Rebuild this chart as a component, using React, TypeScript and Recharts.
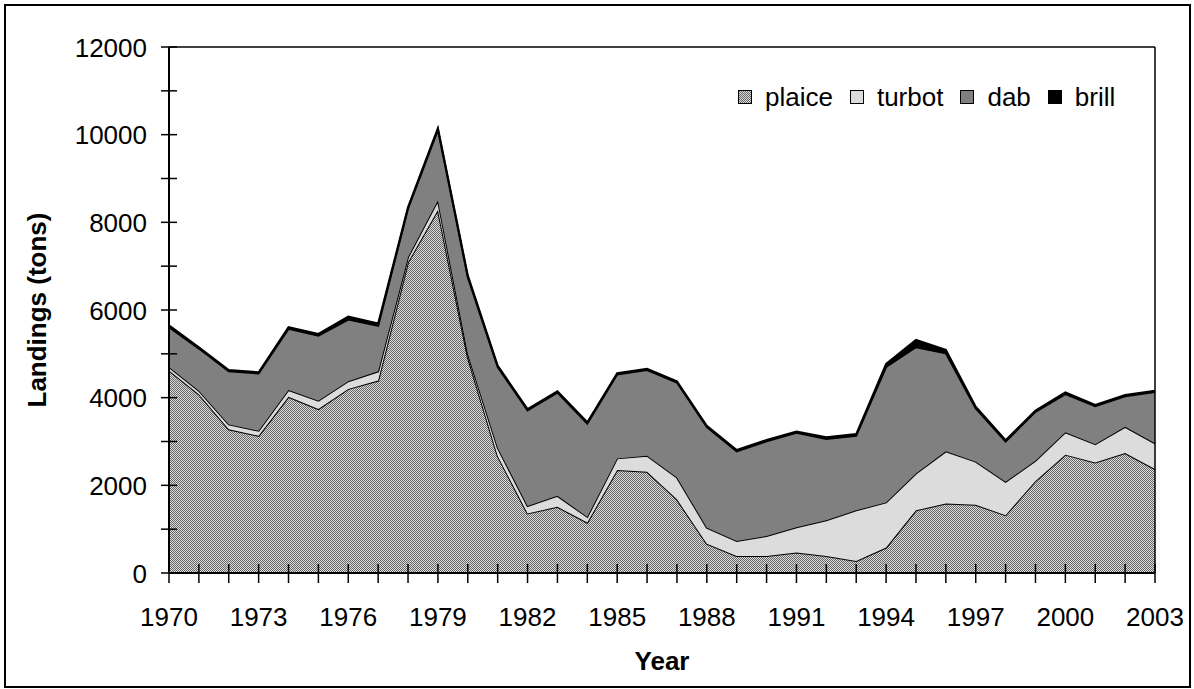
import { Area, AreaChart, XAxis, YAxis, ReferenceLine } from 'recharts';

const years = [
  1970, 1971, 1972, 1973, 1974, 1975, 1976, 1977, 1978, 1979, 1980, 1981,
  1982, 1983, 1984, 1985, 1986, 1987, 1988, 1989, 1990, 1991, 1992, 1993,
  1994, 1995, 1996, 1997, 1998, 1999, 2000, 2001, 2002, 2003,
];
const plaice = [
  4620, 4080, 3280, 3130, 4020, 3740, 4200, 4390, 7090, 8280, 4920, 2670,
  1360, 1510, 1150, 2350, 2310, 1680, 670, 390, 390, 465, 390, 275,
  580, 1430, 1585, 1555, 1320, 2100, 2700, 2520, 2735, 2370,
];
const turbot = [
  80, 80, 110, 115, 155, 190, 175, 210, 115, 220, 80, 190,
  170, 250, 130, 265, 365, 500, 365, 340, 455, 580, 815, 1155,
  1030, 840, 1190, 985, 760, 460, 510, 420, 600, 590,
];
const dab = [
  910, 960, 1210, 1305, 1395, 1485, 1405, 1040, 1105, 1610, 1750, 1840,
  2180, 2355, 2130, 1915, 1955, 2165, 2295, 2045, 2160, 2155, 1850, 1700,
  3090, 2880, 2235, 1215, 920, 1115, 870, 865, 695, 1170,
];
const brill = [
  40, 30, 30, 30, 40, 40, 70, 50, 40, 40, 40, 30,
  30, 30, 30, 30, 30, 30, 30, 30, 30, 30, 40, 40,
  70, 170, 80, 40, 30, 30, 40, 30, 30, 30,
];
const yTicks = [0, 1000, 2000, 3000, 4000, 5000, 6000, 7000, 8000, 9000, 10000, 11000, 12000];
const xLabelYears = [1970, 1973, 1976, 1979, 1982, 1985, 1988, 1991, 1994, 1997, 2000, 2003];
const yLabelValues = [0, 2000, 4000, 6000, 8000, 10000, 12000];

const data = years.map((year, i) => ({
  year,
  plaice: plaice[i],
  turbot: turbot[i],
  dab: dab[i],
  brill: brill[i],
}));

const FONT = 'Liberation Sans, Arial, sans-serif';

const legendItems = [
  { name: 'plaice', fill: 'url(#lg-checker)' },
  { name: 'turbot', fill: '#dcdcdc' },
  { name: 'dab', fill: '#808080' },
  { name: 'brill', fill: '#000000' },
];

// fine checker pattern used for the plaice fill
function Checker({ id }: { id: string }) {
  return (
    <pattern id={id} width={2} height={2} patternUnits="userSpaceOnUse">
      <rect width={2} height={2} fill="#dcdcdc" />
      <rect width={1} height={1} fill="#666" />
      <rect x={1} y={1} width={1} height={1} fill="#666" />
    </pattern>
  );
}

function XTick(props: any) {
  const { x, y, payload } = props;
  const showLabel = xLabelYears.includes(payload.value);
  return (
    <g>
      <line x1={x} x2={x} y1={y - 9} y2={y + 10} stroke="#000" strokeWidth={1.5} />
      {showLabel && (
        <text x={x} y={y + 53} textAnchor="middle" fontSize={26} fontFamily={FONT} fill="#000">
          {payload.value}
        </text>
      )}
    </g>
  );
}

function YTick(props: any) {
  const { x, y, payload } = props;
  const showLabel = yLabelValues.includes(payload.value);
  return (
    <g>
      <line x1={x - 8} x2={x + 8} y1={y} y2={y} stroke="#000" strokeWidth={1.5} />
      {showLabel && (
        <text x={x - 22} y={y + 9.5} textAnchor="end" fontSize={26} fontFamily={FONT} fill="#000">
          {payload.value}
        </text>
      )}
    </g>
  );
}

function LegendBox() {
  return (
    <div
      style={{
        position: 'absolute',
        left: 738,
        top: 82,
        display: 'flex',
        alignItems: 'center',
        fontFamily: FONT,
        fontSize: 26,
        lineHeight: '30px',
      }}
    >
      {legendItems.map((item) => (
        <div key={item.name} style={{ display: 'flex', alignItems: 'center', marginRight: 17 }}>
          <svg width={14} height={14} style={{ marginRight: 13 }}>
            <defs>
              <Checker id="lg-checker" />
            </defs>
            <rect x={0.5} y={0.5} width={13} height={13} fill={item.fill} stroke="#000" strokeWidth={1} />
          </svg>
          <span>{item.name}</span>
        </div>
      ))}
    </div>
  );
}

export default function App() {
  return (
    <div style={{ position: 'absolute', left: 0, top: 0, width: 1194, height: 689, background: '#fff' }}>
      <AreaChart
        width={1194}
        height={689}
        data={data}
        margin={{ top: 47, right: 39, left: 69, bottom: 56 }}
        style={{ position: 'absolute', left: 0, top: 0 }}
      >
        <defs>
          <Checker id="checker" />
        </defs>
        <XAxis
          dataKey="year"
          type="number"
          domain={[1970, 2003]}
          ticks={years}
          interval={0}
          height={60}
          tickSize={0}
          tickMargin={0}
          tickLine={false}
          axisLine={{ stroke: '#000', strokeWidth: 2 }}
          tick={<XTick />}
        />
        <YAxis
          type="number"
          domain={[0, 12000]}
          ticks={yTicks}
          interval={0}
          width={100}
          tickSize={0}
          tickMargin={0}
          tickLine={false}
          axisLine={{ stroke: '#000', strokeWidth: 2 }}
          tick={<YTick />}
        />
        <Area type="linear" dataKey="plaice" stackId="1" fill="url(#checker)" fillOpacity={1} stroke="#000" strokeWidth={2} dot={false} activeDot={false} isAnimationActive={false} />
        <Area type="linear" dataKey="turbot" stackId="1" fill="#dcdcdc" fillOpacity={1} stroke="#000" strokeWidth={2} dot={false} activeDot={false} isAnimationActive={false} />
        <Area type="linear" dataKey="dab" stackId="1" fill="#808080" fillOpacity={1} stroke="#000" strokeWidth={2} dot={false} activeDot={false} isAnimationActive={false} />
        <Area type="linear" dataKey="brill" stackId="1" fill="#000" fillOpacity={1} stroke="#000" strokeWidth={2} dot={false} activeDot={false} isAnimationActive={false} />
        <ReferenceLine y={12000} stroke="#000" strokeWidth={1.5} />
        <ReferenceLine x={2003} stroke="#000" strokeWidth={1.5} />
      </AreaChart>
      <LegendBox />
      <div
        style={{
          position: 'absolute',
          left: 4,
          top: 4,
          width: 1187,
          height: 684,
          boxSizing: 'border-box',
          border: '2px solid #000',
          pointerEvents: 'none',
        }}
      />
      <div
        style={{
          position: 'absolute',
          left: 37,
          top: 310,
          transform: 'translate(-50%, -50%) rotate(-90deg)',
          fontFamily: FONT,
          fontSize: 26,
          fontWeight: 'bold',
          whiteSpace: 'nowrap',
        }}
      >
        Landings (tons)
      </div>
      <div
        style={{
          position: 'absolute',
          left: 662,
          top: 661,
          transform: 'translate(-50%, -50%)',
          fontFamily: FONT,
          fontSize: 26,
          fontWeight: 'bold',
        }}
      >
        Year
      </div>
    </div>
  );
}
